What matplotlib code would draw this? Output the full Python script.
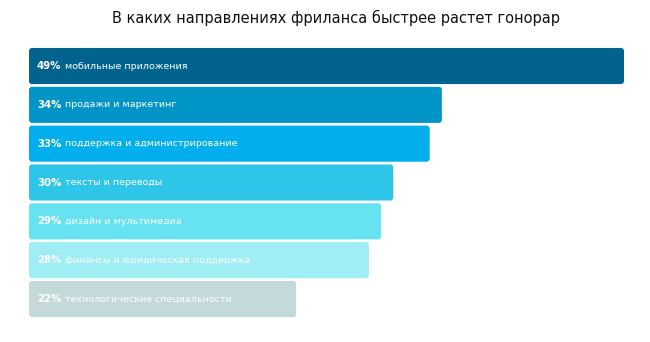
import matplotlib
matplotlib.use("Agg")
import matplotlib.pyplot as plt
from matplotlib.patches import FancyBboxPatch

title = "В каких направлениях фриланса быстрее растет гонорар"
categories = ["мобильные приложения", "продажи и маркетинг", "поддержка и администрирование",
              "тексты и переводы", "дизайн и мультимедиа", "финансы и юридическая поддержка",
              "технологические специальности"]
values = [49, 34, 33, 30, 29, 28, 22]
colors = ["#03638f", "#0194c6", "#02aeeb", "#2ec6e8", "#66e2f0", "#9eeef3", "#c3d9da"]

W, H = 650, 342
fig = plt.figure(figsize=(W / 100, H / 100), dpi=100)
left_px, right_px = 29, 624
top_px, bot_px = 46.6, 318.4
ax = fig.add_axes([left_px / W, 1 - bot_px / H, (right_px - left_px) / W, (bot_px - top_px) / H])
ax.set_xlim(0, 49)
ax.set_ylim(len(values) - 0.5, -0.5)
ax.axis("off")

bh = 0.93
ypos = list(range(len(values)))
bars = ax.barh(ypos, values, height=bh, color=colors)
for b, c in zip(bars, colors):
    x0, y0 = b.get_x(), b.get_y()
    w, h = b.get_width(), b.get_height()
    b.set_visible(False)
    p = FancyBboxPatch((x0, y0), w, h, boxstyle="round,pad=0,rounding_size=0.25",
                       mutation_aspect=0.31, facecolor=c, edgecolor="none")
    ax.add_patch(p)

for y, v, cat in zip(ypos, values, categories):
    ax.annotate(f"{v}%", (0, y), xytext=(5.8, 0), textcoords="offset points",
                va="center", ha="left", color="white", fontsize=8.2,
                fontweight="bold", fontstretch="condensed", family="DejaVu Sans")
    ax.annotate(cat, (0, y), xytext=(26.0, 0), textcoords="offset points",
                va="center", ha="left", color="white", fontsize=6.8,
                family="DejaVu Sans")

fig.text(336 / W, 1 - 18 / H, title, ha="center", va="center", fontsize=10.5,
         color="#111111", family="DejaVu Sans")

fig.savefig("out.png", dpi=100)
